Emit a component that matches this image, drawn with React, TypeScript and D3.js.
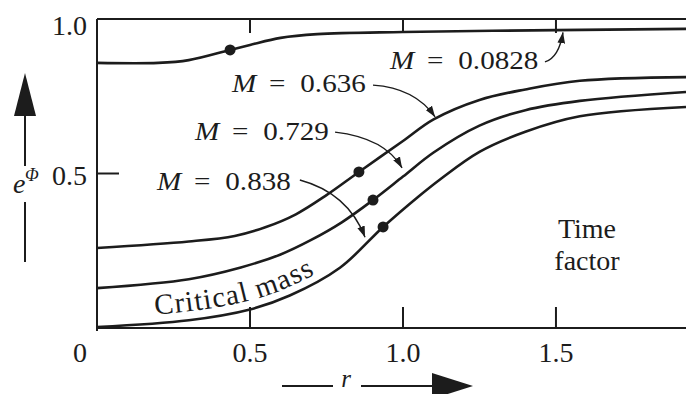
import React from "react";
import * as d3 from "d3";

// values: r along x, e^Phi along y
const masses = ["0.0828", "0.636", "0.729", "0.838"];

const curveM0828: [number, number][] = [
  [0, 0.858], [0.2, 0.858], [0.3, 0.867], [0.435, 0.9], [0.5, 0.916],
  [0.6, 0.939], [0.72, 0.951], [1.0, 0.958], [1.5, 0.964], [1.925, 0.968],
];
const curveM0636: [number, number][] = [
  [0, 0.259], [0.3, 0.28], [0.45, 0.298], [0.55, 0.326], [0.65, 0.368],
  [0.75, 0.43], [0.856, 0.505], [1.0, 0.605], [1.1, 0.675], [1.25, 0.738],
  [1.4, 0.772], [1.578, 0.8], [1.925, 0.812],
];
const curveM0729: [number, number][] = [
  [0, 0.129], [0.3, 0.158], [0.47, 0.196], [0.6, 0.238], [0.7, 0.285],
  [0.8, 0.342], [0.902, 0.414], [1.0, 0.49], [1.1, 0.568], [1.25, 0.655],
  [1.4, 0.705], [1.578, 0.735], [1.925, 0.764],
];
const curveM0838: [number, number][] = [
  [0, 0.003], [0.3, 0.025], [0.5, 0.06], [0.63, 0.105], [0.794, 0.195],
  [0.935, 0.327], [1.05, 0.425], [1.12, 0.48], [1.25, 0.57], [1.4, 0.635],
  [1.578, 0.685], [1.925, 0.715],
];
const curves = [curveM0828, curveM0636, curveM0729, curveM0838];

// marked points on each curve
const dots: [number, number][] = [
  [0.435, 0.9], [0.856, 0.505], [0.902, 0.414], [0.935, 0.327],
];

const xTicks = [0.5, 1.0, 1.5];
const xLabelValues = [0, 0.5, 1.0, 1.5];
const xTickLabels = ["0", "0.5", "1.0", "1.5"];
const yTicks = [0.5];
const yLabelValues = [1.0, 0.5];
const yTickLabels = ["1.0", "0.5"];

// annotation arrows (start, control, end) in data units
const arrows: [number, number][][] = [
  [[1.464, 0.861], [1.51, 0.876], [1.523, 0.957]],
  [[0.902, 0.786], [1.039, 0.777], [1.105, 0.683]],
  [[0.778, 0.634], [0.941, 0.615], [0.997, 0.518]],
  [[0.663, 0.479], [0.82, 0.437], [0.876, 0.294]],
];

// where each "M = ..." label starts (px) and its baseline
const labelPos = [
  [390, 69],
  [232, 92],
  [195, 140],
  [157, 190],
];

const W = 686;
const H = 394;
const ink = "#1c1c1c";
const tf = { fontFamily: "Liberation Serif" };

export default function App() {
  const x = d3.scaleLinear().domain([0, 1.925]).range([97, 686]);
  const y = d3.scaleLinear().domain([0, 1]).range([328, 19]);

  const line = d3
    .line<[number, number]>()
    .x(d => x(d[0]))
    .y(d => y(d[1]))
    .curve(d3.curveCatmullRom.alpha(0.5));

  const textLine = d3
    .line<[number, number]>()
    .x(d => x(d[0]))
    .y(d => y(d[1]) - 9)
    .curve(d3.curveCatmullRom.alpha(0.5));

  const arrowPath = (a: [number, number][]) => {
    const p = d3.path();
    p.moveTo(x(a[0][0]), y(a[0][1]));
    p.quadraticCurveTo(x(a[1][0]), y(a[1][1]), x(a[2][0]), y(a[2][1]));
    return p.toString();
  };

  return (
    <svg
      width={W}
      height={H}
      style={{ position: "absolute", left: 0, top: 0, background: "#fff" }}
    >
      <defs>
        <marker
          id="head"
          viewBox="0 0 10 7"
          refX="10"
          refY="3.5"
          markerWidth="11"
          markerHeight="8"
          markerUnits="userSpaceOnUse"
          orient="auto"
        >
          <path d="M0,0 L10,3.5 L0,7 z" fill={ink} />
        </marker>
        <path id="critPath" d={textLine(curveM0838) || ""} />
      </defs>

      {/* frame */}
      <g stroke={ink} strokeWidth={2} fill="none">
        <line x1={x(0)} x2={W} y1={y(1)} y2={y(1)} />
        <line x1={x(0)} x2={W} y1={y(0)} y2={y(0)} />
        <line x1={x(0)} x2={x(0)} y1={y(1)} y2={y(0) + 3} />
        {xTicks.map(t => (
          <g key={t}>
            <line x1={x(t)} x2={x(t)} y1={y(1)} y2={y(1) + 14} />
            <line x1={x(t)} x2={x(t)} y1={y(0)} y2={y(0) - 21} />
          </g>
        ))}
        {yTicks.map(t => (
          <line key={t} x1={x(0)} x2={x(0) + 22} y1={y(t)} y2={y(t)} />
        ))}
      </g>

      {/* tick labels */}
      <g fill={ink} fontSize={28}>
        {xLabelValues.map((v, i) => (
          <text
            key={v}
            style={tf}
            x={v === 0 ? x(v) - 17 : x(v)}
            y={362}
            textAnchor="middle"
          >
            {xTickLabels[i]}
          </text>
        ))}
        {yLabelValues.map((v, i) => (
          <text
            key={v}
            style={tf}
            x={87}
            y={Math.max(y(v) + 11, 35)}
            textAnchor="end"
          >
            {yTickLabels[i]}
          </text>
        ))}
        <text style={tf} x={13} y={193} fontStyle="italic">e</text>
        <text style={tf} x={25} y={181} fontStyle="italic" fontSize={18}>Φ</text>
        <text style={tf} x={346} y={387} fontStyle="italic" fontSize={25} textAnchor="middle">r</text>
        <text style={tf} x={587} y={238} textAnchor="middle">Time</text>
        <text style={tf} x={587} y={270} textAnchor="middle">factor</text>
      </g>

      {/* axis direction arrows */}
      <g stroke={ink} strokeWidth={2}>
        <line x1={25} x2={25} y1={113} y2={166} />
        <line x1={25} x2={25} y1={202} y2={262} />
        <line x1={282} x2={333} y1={386} y2={386} />
        <line x1={361} x2={434} y1={386} y2={386} />
      </g>
      <path d="M25,73 L14,116 L36,116 Z" fill={ink} />
      <path d="M432,373 L473,386 L432,399 Z" fill={ink} />

      {/* curves */}
      <g fill="none" stroke={ink} strokeWidth={2.6}>
        {curves.map((c, i) => (
          <path key={masses[i]} d={line(c) || ""} />
        ))}
      </g>
      {dots.map((d, i) => (
        <circle key={i} cx={x(d[0])} cy={y(d[1])} r={5.5} fill={ink} />
      ))}

      <text style={tf} fontSize={29} fill={ink} letterSpacing={1.2}>
        <textPath href="#critPath" startOffset={58}>
          Critical mass
        </textPath>
      </text>

      {/* annotation arrows */}
      <g fill="none" stroke={ink} strokeWidth={1.4}>
        {arrows.map((a, i) => (
          <path key={i} d={arrowPath(a)} markerEnd="url(#head)" />
        ))}
      </g>

      {/* mass labels */}
      {masses.map((m, i) => (
        <g
          key={m}
          transform={`translate(${labelPos[i][0]},${labelPos[i][1]}) scale(1.12,1)`}
          fill={ink}
          fontSize={26}
        >
          <text style={tf} x={0} y={0} fontStyle="italic">M</text>
          <text style={tf} x={33} y={0}>=</text>
          <text style={tf} x={61} y={0}>{m}</text>
        </g>
      ))}
    </svg>
  );
}
